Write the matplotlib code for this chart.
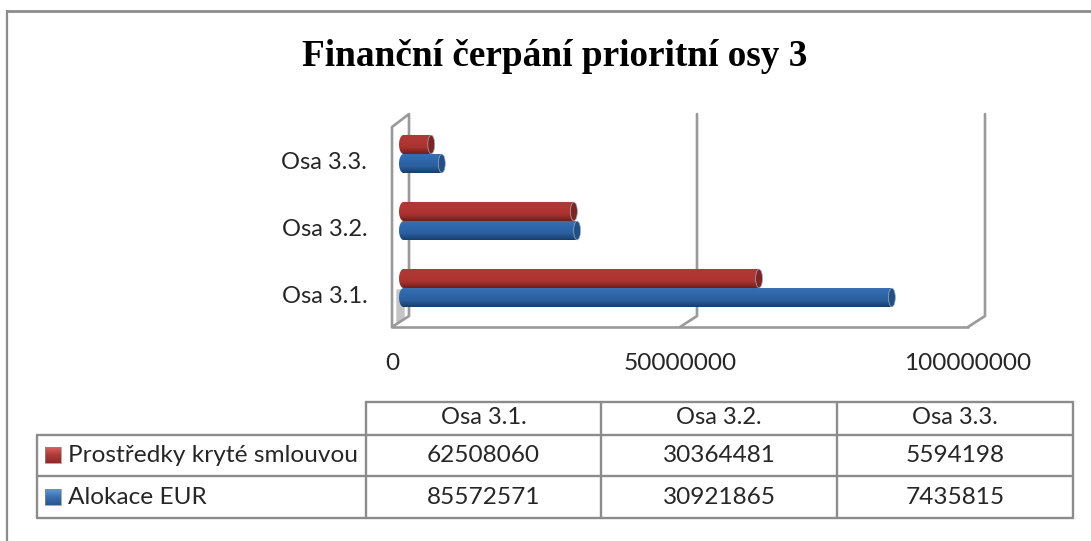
import numpy as np
import matplotlib
matplotlib.use('Agg')
import matplotlib.pyplot as plt
from matplotlib.colors import LinearSegmentedColormap
from matplotlib.patches import Ellipse, PathPatch, Rectangle
from matplotlib.path import Path

W, H = 1091, 541

title = 'Finanční čerpání prioritní osy 3'
categories = ['Osa 3.1.', 'Osa 3.2.', 'Osa 3.3.']
series_names = ['Prostředky kryté smlouvou', 'Alokace EUR']
smlouvou = [62508060, 30364481, 5594198]
alokace = [85572571, 30921865, 7435815]
x_ticks = [0, 50000000, 100000000]

plt.rcParams['font.family'] = ['Lato', 'DejaVu Sans']
GREY = '#8c8c8c'
TEXT = '#262626'

red_cm = LinearSegmentedColormap.from_list('r', ['#a83a38', '#b23734', '#aa3230', '#6e1f1d'])
blue_cm = LinearSegmentedColormap.from_list('b', ['#3a70b0', '#2f68ac', '#2a5f9e', '#173f6c'])
red_key = LinearSegmentedColormap.from_list('rk', ['#d9605c', '#b03a38', '#8e2b29'])
blue_key = LinearSegmentedColormap.from_list('bk', ['#5c9ad8', '#3a70b0', '#2a568c'])
grad = np.linspace(0, 1, 64).reshape(-1, 1)

fig = plt.figure(figsize=(W / 100, H / 100), dpi=100, facecolor='white')

# overlay in pixel coordinates: frame, walls, table
bg = fig.add_axes([0, 0, 1, 1])
bg.axis('off')
bg.plot([7, 7], [H, 11], color=GREY, lw=1.6)
bg.plot([7, W], [11, 11], color=GREY, lw=2)

bg.text(555, 57, title, family='Liberation Serif', weight='bold', fontsize=26.8,
        color='black', ha='center', va='center')

# plot area, 100000000 spans 576 px
ax = fig.add_axes([399 / W, 1 - 321.5 / H, 576 / W, 201 / H])
ax.patch.set_alpha(0)
ax.axis('off')

# 3D walls
wall = dict(color='#9a9a9a', lw=1.9, solid_capstyle='round')
bg.fill([397, 404, 404, 397], [323, 317, 290, 290], color='#c4c4c4', zorder=1)
bg.plot([392, 392, 409, 409, 392, 392], [327, 127, 114, 316, 327, 327], **wall)
bg.plot([392, 968], [327, 327], **wall)
for t in x_ticks[1:]:
    xb = 409 + t / 100000000 * 576
    bg.plot([xb - 17, xb, xb], [327, 316, 114], **wall)

bar_h = 0.284
left_r = 800000
right_r = 600000


def cylinder(v, y, cm, end_col):
    t = np.linspace(np.pi / 2, 3 * np.pi / 2, 20)
    xs = np.r_[left_r * np.cos(t) + left_r, v, v, left_r]
    ys = np.r_[y + bar_h / 2 * np.sin(t), y - bar_h / 2, y + bar_h / 2, y + bar_h / 2]
    patch = PathPatch(Path(np.c_[xs, ys]), fc='none', ec='none', transform=ax.transData)
    ax.add_patch(patch)
    im = ax.imshow(grad, cmap=cm, aspect='auto', origin='upper', zorder=3,
                   extent=[0, v, y - bar_h / 2, y + bar_h / 2])
    im.set_clip_path(patch)
    ax.add_patch(Ellipse((v, y), right_r * 2, bar_h * 0.98, fc=end_col, ec='#9fb0c4',
                         lw=0.5, zorder=4))


for i in range(len(categories)):
    cylinder(alokace[i], i - 0.142, blue_cm, '#234f82')
    cylinder(smlouvou[i], i + 0.142, red_cm, '#7d2523')
    ax.text(-5500000, i - 0.13, categories[i], fontsize=17, color=TEXT, ha='right', va='center')
ax.set_xlim(0, 100000000)
ax.set_ylim(-0.5, 2.5)

for t in x_ticks:
    px = 392 + t / 100000000 * 576
    bg.text(px, 363, str(t), fontsize=17.6, color=TEXT, ha='center', va='center')

# data table
cols = [366, 601, 837, 1073]
tbl = dict(color=GREY, lw=1.7, solid_capstyle='round', solid_joinstyle='round')
bg.plot([366, 1073], [402, 402], **tbl)
bg.plot([37, 1073], [435, 435], **tbl)
bg.plot([37, 1073], [476, 476], **tbl)
bg.plot([37, 1073], [518, 518], **tbl)
bg.plot([37, 37], [435, 518], **tbl)
for c in cols:
    bg.plot([c, c], [402, 518], **tbl)

rows = [smlouvou, alokace]
row_y = [455, 497]
keys = [red_key, blue_key]
for r, y in enumerate(row_y):
    bg.imshow(grad, cmap=keys[r], aspect='auto', origin='upper',
              extent=[45, 61, y + 8, y - 8], zorder=2)
    bg.add_patch(Rectangle((45, y - 8), 16, 16, fc='none', ec='#888888', lw=0.5, zorder=3))
    bg.text(68, y, series_names[r], fontsize=17.6, color=TEXT, ha='left', va='center')
    for c in range(3):
        bg.text((cols[c] + cols[c + 1]) / 2, y, str(rows[r][c]), fontsize=17.6, color=TEXT,
                ha='center', va='center')
for c in range(3):
    bg.text((cols[c] + cols[c + 1]) / 2, 418, categories[c], fontsize=17, color=TEXT,
            ha='center', va='center')

bg.set_xlim(0, W)
bg.set_ylim(H, 0)

fig.savefig('out.png', dpi=100)
